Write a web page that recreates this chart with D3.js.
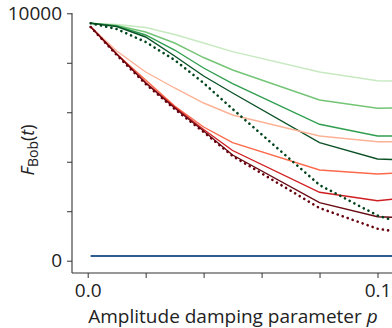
<!DOCTYPE html>
<html>
<head>
<meta charset="utf-8">
<script src="https://cdn.jsdelivr.net/npm/d3@7"></script>
<style>
  body { margin: 0; background: #fff; }
  svg { display: block; }
  text { font-family: "Open Sans", "Noto Sans", sans-serif; fill: #222; }
</style>
</head>
<body>
<div id="chart"></div>
<script>
// damping parameter values (last one is where the frame cuts the plot)
const pValues = [0.001, 0.01, 0.02, 0.03, 0.04, 0.05, 0.08, 0.1, 0.105]

// green family, light -> dark
const green1 = [9596, 9547, 9426, 9143, 8799, 8448, 7627, 7276, 7263]
const green2 = [9596, 9507, 9244, 8799, 8213, 7708, 6495, 6160, 6172]
const green3 = [9596, 9487, 9123, 8516, 7789, 7162, 5513, 5040, 5040]
const green4 = [9596, 9467, 9042, 8274, 7466, 6778, 4770, 4111, 4091]
const greenDotted = [9596, 9365, 8840, 8112, 7183, 6132, 3060, 1827, 1645]

// red family, light -> dark
const red1 = [9458, 8476, 7627, 6981, 6374, 5889, 5040, 4810, 4810]
const red2 = [9458, 8355, 7304, 6253, 5404, 4770, 3666, 3504, 3533]
const red3 = [9458, 8355, 7203, 6213, 5303, 4454, 2765, 2425, 2482]
const red4 = [9458, 8355, 7183, 6172, 5242, 4272, 2344, 1778, 1754]
const redDotted = [9446, 8314, 7142, 6132, 5202, 4232, 2130, 1293, 1200]

const baseline = [190, 190, 190, 190, 190, 190, 190, 190, 190]

const xTicks = [0, 0.02, 0.04, 0.06, 0.08, 0.1]
const xTickLabels = ["0.0", "", "", "", "", "0.1"]
const yTicks = [0, 2000, 4000, 6000, 8000, 10000]
const yTickLabels = ["0", "", "", "", "", "10000"]

const width = 392, height = 328
const margin = {top: 13, left: 72, bottom: 55}
const axisY = 273

const svg = d3.select('#chart').append('svg')
  .attr('width', width)
  .attr('height', height)

const x = d3.scaleLinear().domain([0, 0.1]).range([87.7, 377.5])
const y = d3.scaleLinear().domain([0, 10000]).range([260.7, 13.3])

const series = [
  {values: green1, color: '#c7e9c0', w: 1.4},
  {values: green2, color: '#74c476', w: 1.4},
  {values: green3, color: '#2f9e4f', w: 1.4},
  {values: green4, color: '#0c5227', w: 1.4},
  {values: red1, color: '#fcb296', w: 1.4},
  {values: red2, color: '#fb6a4a', w: 1.4},
  {values: red3, color: '#d01f22', w: 1.4},
  {values: red4, color: '#6a0a14', w: 1.4},
  {values: greenDotted, color: '#00441b', w: 2.6, dotted: true},
  {values: redDotted, color: '#67000d', w: 2.6, dotted: true},
  {values: baseline, color: '#2c5b90', w: 2}
]

const line = d3.line()
  .x((d, i) => x(pValues[i]))
  .y(d => y(d))

svg.append('g')
  .selectAll('path')
  .data(series)
  .enter()
  .append('path')
  .attr('d', d => line(d.values))
  .attr('fill', 'none')
  .attr('stroke', d => d.color)
  .attr('stroke-width', d => d.w)
  .attr('stroke-linecap', d => d.dotted ? 'round' : 'butt')
  .attr('stroke-dasharray', d => d.dotted ? '0.1 5.2' : null)

// spines
svg.append('line')
  .attr('x1', margin.left).attr('x2', margin.left)
  .attr('y1', margin.top).attr('y2', axisY)
  .attr('stroke', '#333').attr('stroke-width', 1.1)
svg.append('line')
  .attr('x1', margin.left).attr('x2', width)
  .attr('y1', axisY).attr('y2', axisY)
  .attr('stroke', '#333').attr('stroke-width', 1.1)

const xAxis = svg.append('g')
  .attr('transform', 'translate(0,' + axisY + ')')
  .call(d3.axisBottom(x).tickValues(xTicks).tickSize(5).tickPadding(6)
    .tickFormat((d, i) => xTickLabels[i]))
xAxis.select('.domain').remove()
xAxis.selectAll('line').attr('stroke', '#333')
xAxis.selectAll('text').attr('font-size', 19)

const yAxis = svg.append('g')
  .attr('transform', 'translate(' + margin.left + ',0)')
  .call(d3.axisLeft(y).tickValues(yTicks).tickSize(5).tickPadding(5)
    .tickFormat((d, i) => yTickLabels[i]))
yAxis.select('.domain').remove()
yAxis.selectAll('line').attr('stroke', '#333')
yAxis.selectAll('text').attr('font-size', 19)

// axis titles
svg.append('text')
  .attr('x', 233)
  .attr('y', 323)
  .attr('text-anchor', 'middle')
  .attr('font-size', 19)
  .html('Amplitude damping parameter <tspan font-style="italic">p</tspan>')

svg.append('text')
  .attr('transform', 'translate(34,150) rotate(-90)')
  .attr('text-anchor', 'middle')
  .attr('font-size', 18)
  .html('<tspan font-style="italic">F</tspan><tspan font-size="14" dy="4">Bob</tspan><tspan dy="-4">(</tspan><tspan font-style="italic">t</tspan>)')
</script>
</body>
</html>
